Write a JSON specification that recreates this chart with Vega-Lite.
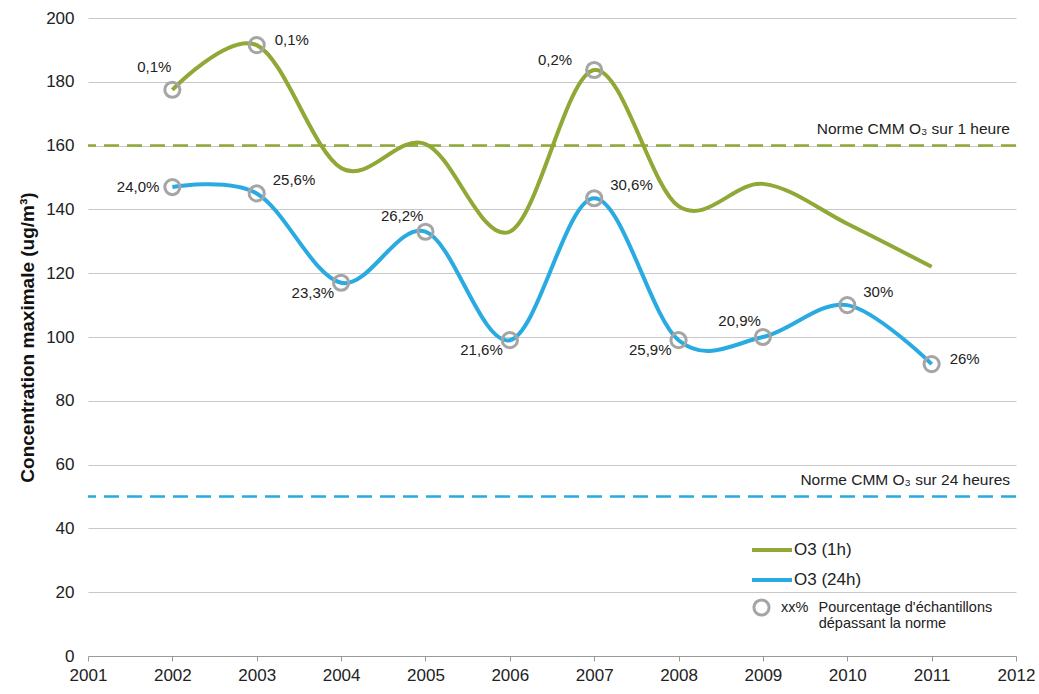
{
  "$schema": "https://vega.github.io/schema/vega-lite/v6.json",
  "width": 928,
  "height": 638,
  "autosize": {"type": "none"},
  "padding": {"left": 88, "top": 18, "right": 23, "bottom": 38},
  "background": "white",
  "config": {"font": "Liberation Sans", "view": {"stroke": null}},
  "datasets": {
    "norms": [
      {"norm": "Norme CMM O₃ sur 1 heure", "value": 160, "kind": "1h", "xpos": 2012},
      {"norm": "Norme CMM O₃ sur 24 heures", "value": 50, "kind": "24h", "xpos": 2012}
    ]
  },
  "data": {
    "values": [
      {"year": 2002, "series": "O3 (1h)", "value": 177.5, "pct": "0,1%"},
      {"year": 2003, "series": "O3 (1h)", "value": 191.5, "pct": "0,1%"},
      {"year": 2004, "series": "O3 (1h)", "value": 153, "pct": null},
      {"year": 2005, "series": "O3 (1h)", "value": 160.5, "pct": null},
      {"year": 2006, "series": "O3 (1h)", "value": 133, "pct": null},
      {"year": 2007, "series": "O3 (1h)", "value": 183.7, "pct": "0,2%"},
      {"year": 2008, "series": "O3 (1h)", "value": 141, "pct": null},
      {"year": 2009, "series": "O3 (1h)", "value": 148, "pct": null},
      {"year": 2010, "series": "O3 (1h)", "value": 135.5, "pct": null},
      {"year": 2011, "series": "O3 (1h)", "value": 122, "pct": null},
      {"year": 2002, "series": "O3 (24h)", "value": 147, "pct": "24,0%"},
      {"year": 2003, "series": "O3 (24h)", "value": 145, "pct": "25,6%"},
      {"year": 2004, "series": "O3 (24h)", "value": 117, "pct": "23,3%"},
      {"year": 2005, "series": "O3 (24h)", "value": 133, "pct": "26,2%"},
      {"year": 2006, "series": "O3 (24h)", "value": 99, "pct": "21,6%"},
      {"year": 2007, "series": "O3 (24h)", "value": 143.5, "pct": "30,6%"},
      {"year": 2008, "series": "O3 (24h)", "value": 99, "pct": "25,9%"},
      {"year": 2009, "series": "O3 (24h)", "value": 100, "pct": "20,9%"},
      {"year": 2010, "series": "O3 (24h)", "value": 110, "pct": "30%"},
      {"year": 2011, "series": "O3 (24h)", "value": 91.5, "pct": "26%"}
    ]
  },
  "encoding": {
    "x": {
      "field": "year",
      "type": "quantitative",
      "scale": {"domain": [2001, 2012], "nice": false, "zero": false},
      "axis": {
        "title": null,
        "values": [2001, 2002, 2003, 2004, 2005, 2006, 2007, 2008, 2009, 2010, 2011, 2012],
        "format": "d",
        "labelFontSize": 17,
        "labelColor": "#222222",
        "grid": false,
        "domainColor": "#9a9a9a",
        "tickColor": "#9a9a9a",
        "tickSize": 5,
        "labelPadding": 6,
        "labelFlush": false
      }
    },
    "y": {
      "field": "value",
      "type": "quantitative",
      "scale": {"domain": [0, 200], "nice": false},
      "axis": {
        "title": "Concentration maximale (ug/m³)",
        "titleFontSize": 19,
        "titleFontWeight": "bold",
        "titleColor": "#111111",
        "titlePadding": 8,
        "values": [0, 20, 40, 60, 80, 100, 120, 140, 160, 180, 200],
        "labelFontSize": 17,
        "labelColor": "#222222",
        "labelPadding": 14,
        "domain": false,
        "ticks": false,
        "gridColor": "#c8c8c8",
        "gridWidth": 1
      }
    }
  },
  "layer": [
    {
      "data": {"name": "norms"},
      "transform": [{"filter": "datum.kind == '1h'"}],
      "mark": {"type": "rule", "color": "#8FA836", "strokeWidth": 2.5, "strokeDash": [15, 8]},
      "encoding": {"x": null, "y": {"field": "value", "type": "quantitative"}}
    },
    {
      "data": {"name": "norms"},
      "transform": [{"filter": "datum.kind == '24h'"}],
      "mark": {"type": "rule", "color": "#29ABE2", "strokeWidth": 2.5, "strokeDash": [15, 8]},
      "encoding": {"x": null, "y": {"field": "value", "type": "quantitative"}}
    },
    {
      "data": {"name": "norms"},
      "mark": {"type": "text", "align": "right", "baseline": "middle", "dx": -6, "dy": -17, "fontSize": 15.5, "color": "#222222"},
      "encoding": {
        "x": {"field": "xpos", "type": "quantitative"},
        "y": {"field": "value", "type": "quantitative"},
        "text": {"field": "norm"}
      }
    },
    {
      "mark": {"type": "line", "interpolate": "cardinal", "strokeWidth": 4},
      "encoding": {
        "color": {
          "field": "series",
          "type": "nominal",
          "scale": {"domain": ["O3 (1h)", "O3 (24h)"], "range": ["#8FA836", "#29ABE2"]},
          "legend": {
            "orient": "none",
            "legendX": 662,
            "legendY": 510,
            "title": null,
            "symbolType": "stroke",
            "symbolSize": 1600,
            "symbolStrokeWidth": 4,
            "labelFontSize": 17,
            "labelColor": "#222222",
            "labelOffset": 0,
            "rowPadding": -19,
            "padding": 0
          }
        }
      }
    },
    {
      "transform": [{"filter": "datum.pct != null"}],
      "mark": {"type": "point", "filled": false, "color": "#A5A5A5", "strokeWidth": 3, "size": 230, "opacity": 1},
      "encoding": {
        "shape": {
          "datum": "xx%",
          "scale": {"domain": ["xx%"], "range": ["circle"]},
          "legend": {
            "orient": "none",
            "legendX": 664,
            "legendY": 580,
            "title": null,
            "symbolStrokeColor": "#A5A5A5",
            "symbolStrokeWidth": 3,
            "symbolSize": 230,
            "labelFontSize": 14.5,
            "labelColor": "#222222",
            "labelOffset": 10,
            "labelLimit": 400,
            "padding": 0,
            "labelExpr": "[\"xx%\u2002\u2009Pourcentage d'échantillons\", \"\u200b\u2003\u2003\u2009\u2009\u2009dépassant la norme\"]"
          }
        }
      }
    },
    {
      "transform": [{"filter": "datum.series == 'O3 (24h)' && datum.year == 2002"}],
      "mark": {"type": "text", "align": "right", "baseline": "middle", "dx": -13, "dy": 0, "fontSize": 15, "color": "#222222"},
      "encoding": {"text": {"field": "pct"}}
    },
    {
      "transform": [{"filter": "datum.series == 'O3 (1h)' && datum.year == 2002"}],
      "mark": {"type": "text", "align": "right", "baseline": "middle", "dx": -1, "dy": -23, "fontSize": 15, "color": "#222222"},
      "encoding": {"text": {"field": "pct"}}
    },
    {
      "transform": [{"filter": "datum.series == 'O3 (24h)' && (datum.year == 2005 || datum.year == 2009)"}],
      "mark": {"type": "text", "align": "right", "baseline": "middle", "dx": -2, "dy": -16, "fontSize": 15, "color": "#222222"},
      "encoding": {"text": {"field": "pct"}}
    },
    {
      "transform": [{"filter": "datum.series == 'O3 (1h)' && datum.year == 2007"}],
      "mark": {"type": "text", "align": "right", "baseline": "middle", "dx": -22, "dy": -10, "fontSize": 15, "color": "#222222"},
      "encoding": {"text": {"field": "pct"}}
    },
    {
      "transform": [{"filter": "(datum.series == 'O3 (1h)' && datum.year == 2003) || (datum.series == 'O3 (24h)' && datum.year == 2011)"}],
      "mark": {"type": "text", "align": "left", "baseline": "middle", "dx": 18, "dy": -5, "fontSize": 15, "color": "#222222"},
      "encoding": {"text": {"field": "pct"}}
    },
    {
      "transform": [{"filter": "datum.series == 'O3 (24h)' && (datum.year == 2003 || datum.year == 2007 || datum.year == 2010)"}],
      "mark": {"type": "text", "align": "left", "baseline": "middle", "dx": 16, "dy": -13, "fontSize": 15, "color": "#222222"},
      "encoding": {"text": {"field": "pct"}}
    },
    {
      "transform": [{"filter": "datum.series == 'O3 (24h)' && (datum.year == 2004 || datum.year == 2006 || datum.year == 2008)"}],
      "mark": {"type": "text", "align": "right", "baseline": "middle", "dx": -7, "dy": 10, "fontSize": 15, "color": "#222222"},
      "encoding": {"text": {"field": "pct"}}
    }
  ]
}
